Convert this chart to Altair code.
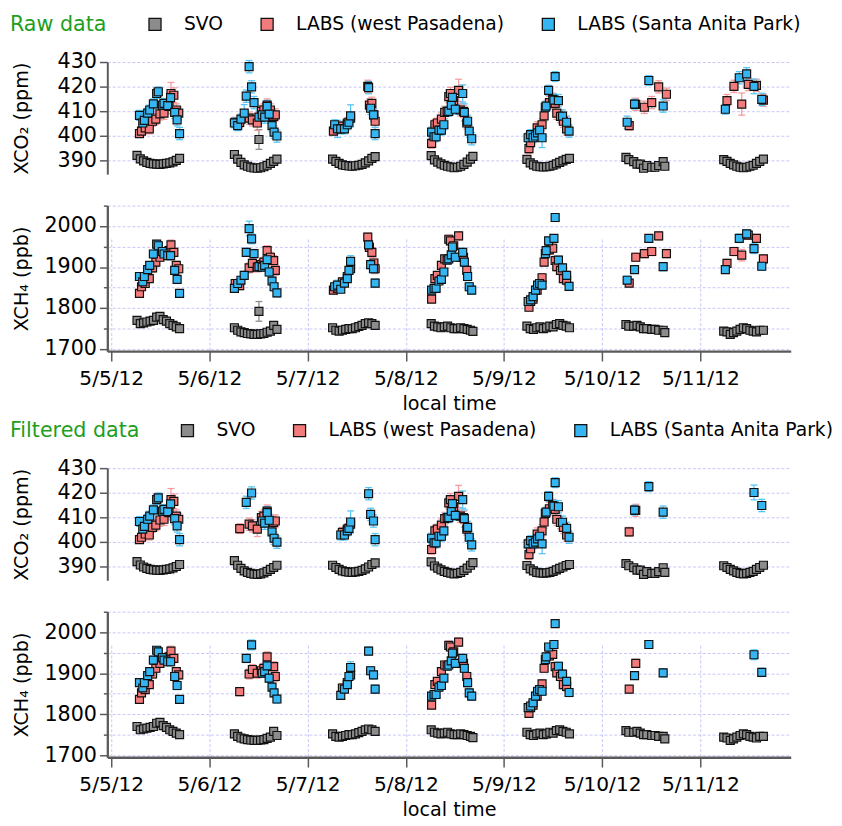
import altair as alt
import pandas as pd

SITES = ["SVO", "LABS (west Pasadena)", "LABS (Santa Anita Park)"]
FILL_COLORS = ["#8c8c8c", "#f47b7b", "#35b6f2"]
ERR_COLORS = ["#8c8c8c", "#f89c9c", "#55c6f7"]
DAY_LABELS = ["5/5/12", "5/6/12", "5/7/12", "5/8/12", "5/9/12", "5/10/12", "5/11/12"]
CO2_TICKS = [390, 400, 410, 420, 430]
CH4_MAJOR = [1700, 1800, 1900, 2000]
CH4_MINOR = [1750, 1850, 1950, 2050]

# rows: (local hour, XCO2, XCO2 err, XCH4, XCH4 err, kept after filtering)
SVO_D0 = [(6.3, 392.0, 0.9, 1770, 6, 1), (7.1, 390.6, 0.8, 1762, 5, 1), (7.9, 389.8, 0.8, 1764, 5, 1),
          (8.7, 389.2, 0.7, 1766, 5, 1), (9.5, 388.8, 0.7, 1768, 4, 1), (10.3, 388.6, 0.7, 1770, 5, 1),
          (11.1, 388.5, 0.7, 1778, 5, 1), (11.9, 388.4, 0.8, 1780, 6, 1), (12.7, 388.6, 0.7, 1772, 5, 1),
          (13.5, 388.8, 0.7, 1768, 5, 1), (14.3, 389.0, 0.8, 1762, 5, 1), (15.1, 389.4, 0.8, 1758, 5, 1),
          (15.9, 390.0, 0.9, 1754, 6, 1), (16.7, 390.8, 1.0, 1750, 6, 1)]
SVO_D1 = [(6.1, 392.4, 1.0, 1752, 6, 1), (6.9, 390.5, 0.9, 1746, 5, 1), (7.7, 389.2, 0.8, 1742, 5, 1),
          (8.5, 388.2, 0.8, 1740, 5, 1), (9.3, 387.6, 0.7, 1738, 5, 1), (10.1, 387.2, 0.7, 1737, 5, 1),
          (10.9, 386.9, 0.7, 1736, 5, 1), (11.7, 386.8, 0.7, 1736, 5, 1), (12.1, 398.5, 4.0, 1792, 24, 0),
          (12.5, 387.0, 0.7, 1737, 5, 1), (13.3, 387.4, 0.7, 1738, 5, 1), (14.1, 388.0, 0.8, 1741, 5, 1),
          (14.9, 388.8, 0.8, 1744, 5, 1), (15.7, 389.6, 0.9, 1758, 6, 1), (16.5, 390.5, 1.0, 1748, 6, 1)]
SVO_D2 = [(6.1, 390.5, 0.9, 1752, 6, 1), (6.9, 389.6, 0.8, 1746, 5, 1), (7.7, 388.8, 0.8, 1744, 5, 1),
          (8.5, 388.2, 0.7, 1746, 5, 1), (9.3, 387.9, 0.7, 1748, 5, 1), (10.1, 387.7, 0.7, 1750, 5, 1),
          (10.9, 387.6, 0.7, 1750, 5, 1), (11.7, 387.8, 0.7, 1752, 5, 1), (12.5, 388.0, 0.7, 1755, 5, 1),
          (13.3, 388.4, 0.8, 1758, 5, 1), (14.1, 389.0, 1.5, 1762, 6, 1), (14.9, 389.8, 0.8, 1764, 6, 1),
          (15.7, 390.8, 1.0, 1762, 6, 1), (16.5, 391.5, 1.0, 1758, 6, 1)]
SVO_D3 = [(6.2, 391.9, 1.0, 1762, 6, 1), (7.0, 390.2, 0.9, 1756, 5, 1), (7.8, 389.3, 0.8, 1754, 5, 1),
          (8.6, 388.6, 0.8, 1752, 5, 1), (9.4, 388.0, 0.7, 1754, 5, 1), (10.2, 387.6, 0.7, 1756, 5, 1),
          (11.0, 387.3, 0.7, 1752, 5, 1), (11.8, 387.0, 0.7, 1750, 5, 1), (12.6, 387.2, 0.7, 1750, 5, 1),
          (13.4, 387.6, 0.8, 1752, 5, 1), (14.2, 388.4, 0.8, 1750, 5, 1), (15.0, 389.3, 0.9, 1748, 5, 1),
          (15.8, 390.5, 1.0, 1746, 5, 1), (16.4, 391.6, 1.2, 1743, 6, 1)]
SVO_D4 = [(5.6, 390.4, 0.9, 1756, 5, 1), (6.4, 389.0, 0.8, 1750, 5, 1), (7.2, 388.2, 0.8, 1748, 5, 1),
          (8.0, 387.6, 0.7, 1752, 5, 1), (8.8, 387.4, 0.7, 1754, 5, 1), (9.6, 387.3, 0.7, 1750, 5, 1),
          (10.4, 387.4, 0.7, 1752, 5, 1), (11.2, 387.6, 0.7, 1756, 5, 1), (12.0, 388.0, 0.7, 1754, 5, 1),
          (12.8, 388.6, 0.8, 1760, 5, 1), (13.6, 389.2, 0.8, 1762, 5, 1), (14.4, 389.8, 0.8, 1758, 5, 1),
          (15.2, 390.4, 0.9, 1756, 5, 1), (16.0, 390.8, 1.0, 1752, 6, 1)]
SVO_D5 = [(5.8, 391.2, 1.0, 1760, 6, 1), (6.5, 390.3, 0.9, 1756, 5, 1), (7.7, 389.5, 0.8, 1756, 5, 1),
          (8.5, 388.5, 0.8, 1758, 5, 1), (9.3, 388.5, 0.8, 1754, 5, 1), (10.1, 386.8, 0.8, 1750, 5, 1),
          (10.9, 387.9, 0.8, 1750, 5, 1), (12.1, 387.2, 0.8, 1748, 5, 1), (12.9, 387.2, 0.8, 1748, 5, 1),
          (13.8, 387.9, 0.8, 1746, 5, 1), (14.9, 389.5, 0.9, 1746, 5, 1), (15.3, 387.6, 0.9, 1740, 5, 1)]
SVO_D6 = [(5.7, 390.3, 0.9, 1744, 5, 1), (6.5, 389.6, 0.8, 1742, 5, 1), (7.3, 388.8, 0.8, 1736, 5, 1),
          (8.1, 388.2, 0.8, 1740, 5, 1), (8.9, 387.6, 0.8, 1744, 5, 1), (9.7, 387.2, 0.8, 1748, 5, 1),
          (10.5, 387.0, 0.8, 1752, 5, 1), (11.3, 387.2, 0.8, 1750, 5, 1), (12.1, 387.6, 0.8, 1746, 5, 1),
          (12.9, 388.0, 0.8, 1744, 5, 1), (13.7, 388.8, 0.8, 1742, 5, 1), (14.5, 389.6, 0.8, 1746, 5, 1),
          (15.4, 390.5, 0.9, 1746, 5, 1)]

WP_D0 = [(6.9, 400.9, 1.5, 1836, 8, 1), (7.4, 401.9, 1.5, 1852, 8, 1), (8.3, 403.2, 1.8, 1860, 9, 1),
         (9.3, 402.8, 2.0, 1872, 9, 1), (10.1, 405.9, 2.0, 1898, 10, 1), (10.9, 406.8, 2.2, 1912, 10, 1),
         (11.9, 408.9, 2.5, 1924, 10, 1), (12.9, 409.2, 2.5, 1936, 10, 1), (14.1, 411.9, 3.0, 1940, 12, 1),
         (14.6, 417.2, 4.5, 1954, 12, 1), (15.3, 416.5, 3.0, 1936, 10, 1), (15.9, 410.5, 2.5, 1904, 10, 1),
         (16.5, 409.2, 2.5, 1896, 10, 1)]
WP_D1 = [(6.3, 405.5, 2.0, 1860, 10, 0), (7.4, 405.4, 2.0, 1855, 10, 1), (9.7, 407.2, 2.5, 1898, 12, 1),
         (10.5, 406.5, 2.5, 1909, 12, 1), (11.7, 405.2, 3.0, 1900, 12, 1), (12.7, 409.9, 2.5, 1906, 12, 1),
         (13.3, 410.5, 2.5, 1912, 12, 1), (14.1, 412.5, 2.5, 1940, 12, 1), (14.9, 410.5, 2.5, 1924, 12, 0),
         (15.7, 407.9, 2.5, 1916, 12, 1), (16.1, 408.5, 2.5, 1892, 12, 1)]
WP_D2 = [(6.3, 401.9, 1.8, 1844, 10, 0), (7.3, 403.2, 1.8, 1848, 10, 0), (8.5, 403.9, 2.0, 1864, 10, 1),
         (9.7, 405.2, 2.0, 1877, 10, 1), (10.5, 407.2, 2.0, 1896, 10, 1), (14.7, 420.1, 2.5, 1973, 10, 0),
         (15.1, 412.5, 2.5, 1948, 10, 0), (15.7, 413.2, 2.5, 1936, 12, 0), (16.2, 408.5, 2.5, 1910, 12, 0),
         (16.5, 405.9, 2.5, 1896, 12, 0)]
WP_D3 = [(6.3, 396.9, 2.0, 1822, 9, 1), (7.1, 404.5, 2.0, 1872, 9, 1), (7.7, 405.2, 2.0, 1880, 9, 1),
         (8.7, 406.8, 2.5, 1904, 10, 1), (9.5, 409.5, 2.5, 1920, 10, 1), (10.5, 415.9, 2.5, 1968, 10, 1),
         (10.9, 417.2, 2.5, 1964, 10, 1), (11.7, 414.3, 2.5, 1952, 10, 1), (12.9, 418.5, 4.5, 1976, 10, 1),
         (13.3, 410.5, 2.5, 1924, 10, 1), (14.1, 409.9, 2.5, 1924, 10, 1), (14.9, 405.2, 2.5, 1892, 10, 1)]
WP_D4 = [(6.1, 394.8, 2.0, 1802, 9, 1), (6.5, 397.2, 2.0, 1816, 9, 1), (7.1, 400.1, 2.0, 1822, 9, 1),
         (8.1, 403.2, 2.5, 1844, 10, 1), (9.3, 404.5, 2.5, 1874, 10, 1), (9.8, 408.1, 2.5, 1912, 10, 1),
         (11.1, 413.5, 2.5, 1942, 10, 1), (11.9, 414.8, 2.5, 1946, 10, 1), (12.5, 413.2, 2.5, 1916, 10, 1),
         (12.9, 409.2, 2.5, 1901, 10, 1), (13.8, 407.9, 2.5, 1892, 10, 1), (14.5, 405.9, 2.5, 1872, 10, 1),
         (15.3, 402.8, 2.5, 1868, 12, 1)]
WP_D5 = [(6.6, 404.1, 1.8, 1861, 9, 1), (8.2, 412.8, 2.5, 1924, 10, 1), (10.3, 411.6, 2.5, 1933, 10, 0),
         (12.1, 413.5, 2.5, 1938, 10, 0), (13.8, 419.9, 2.5, 1976, 10, 0), (15.7, 416.9, 2.5, 1933, 10, 0)]
WP_D6 = [(6.5, 414.3, 2.5, 1909, 10, 0), (8.2, 420.1, 2.5, 1938, 10, 0), (10.1, 412.9, 4.5, 1929, 14, 0),
         (11.7, 420.9, 2.5, 1978, 10, 0), (13.7, 420.5, 2.5, 1970, 10, 0), (15.4, 414.5, 2.5, 1920, 10, 0)]

SAP_D0 = [(6.9, 408.3, 2.0, 1877, 9, 1), (7.7, 405.2, 1.8, 1864, 9, 1), (8.1, 406.3, 1.8, 1877, 9, 1),
          (8.9, 409.2, 2.0, 1894, 9, 1), (9.4, 410.5, 2.0, 1904, 9, 1), (10.3, 413.0, 2.0, 1932, 9, 1),
          (11.1, 417.2, 2.0, 1956, 9, 1), (11.5, 417.9, 2.0, 1952, 9, 1), (12.5, 412.5, 2.0, 1938, 9, 1),
          (12.9, 413.2, 2.0, 1932, 9, 1), (13.8, 412.3, 2.0, 1928, 9, 1), (14.5, 415.5, 2.5, 1928, 10, 1),
          (15.5, 409.5, 2.5, 1892, 10, 1), (16.1, 406.5, 2.5, 1870, 10, 1), (16.7, 400.9, 2.5, 1836, 9, 1)]
SAP_D1 = [(6.1, 405.2, 2.0, 1848, 9, 0), (6.9, 404.1, 2.0, 1860, 9, 0), (7.7, 406.8, 2.0, 1868, 9, 0),
          (8.5, 409.2, 3.5, 1880, 10, 0), (9.0, 416.1, 2.5, 1936, 10, 1), (9.7, 428.1, 2.5, 1994, 18, 0),
          (10.3, 419.9, 2.5, 1969, 12, 1), (10.9, 413.5, 2.5, 1933, 10, 0), (12.1, 407.6, 2.5, 1901, 10, 0),
          (12.9, 408.5, 2.5, 1900, 10, 1), (13.5, 407.6, 2.5, 1904, 10, 1), (14.1, 411.9, 2.5, 1918, 10, 1),
          (14.6, 408.8, 2.5, 1888, 10, 1), (15.3, 404.1, 2.5, 1866, 10, 1), (15.8, 401.5, 2.5, 1852, 10, 1),
          (16.5, 399.9, 2.5, 1837, 10, 1)]
SAP_D2 = [(6.6, 404.5, 2.0, 1852, 8, 0), (7.3, 402.8, 3.5, 1856, 12, 0), (8.1, 402.8, 2.0, 1846, 8, 1),
          (9.0, 402.8, 2.0, 1861, 8, 1), (9.7, 404.5, 2.0, 1872, 8, 1), (10.1, 405.5, 2.0, 1892, 8, 1),
          (10.5, 408.1, 4.5, 1914, 14, 1), (14.9, 419.6, 2.5, 1954, 10, 1), (15.4, 411.2, 2.5, 1906, 10, 1),
          (16.1, 408.5, 2.5, 1896, 10, 1), (16.5, 400.9, 2.5, 1861, 10, 1)]
SAP_D3 = [(6.3, 401.5, 2.0, 1844, 8, 1), (6.9, 399.6, 2.0, 1848, 8, 1), (7.4, 399.6, 2.0, 1848, 8, 1),
          (8.1, 402.3, 2.0, 1866, 8, 1), (8.7, 402.3, 2.0, 1870, 8, 1), (9.3, 404.5, 2.0, 1888, 8, 1),
          (10.1, 409.9, 2.0, 1917, 8, 1), (10.5, 409.9, 2.0, 1920, 8, 1), (11.1, 412.5, 2.0, 1930, 8, 1),
          (11.4, 415.6, 2.0, 1949, 8, 1), (12.1, 410.8, 2.0, 1924, 8, 1), (13.9, 417.2, 3.5, 1936, 10, 1),
          (14.3, 409.5, 3.5, 1912, 10, 1), (15.1, 405.9, 2.5, 1877, 10, 1), (15.5, 401.9, 2.5, 1852, 10, 1),
          (16.1, 398.8, 2.5, 1844, 10, 1)]
SAP_D4 = [(5.9, 399.2, 2.0, 1816, 8, 1), (6.5, 400.5, 2.0, 1820, 8, 1), (7.1, 399.2, 2.0, 1828, 8, 1),
          (7.7, 399.9, 2.0, 1844, 8, 1), (8.2, 401.2, 2.0, 1856, 8, 1), (8.7, 402.3, 2.0, 1860, 8, 1),
          (9.3, 399.2, 4.0, 1856, 10, 1), (10.1, 411.6, 2.0, 1933, 8, 1), (10.3, 412.1, 2.0, 1940, 8, 1),
          (10.9, 418.5, 2.0, 1964, 8, 1), (12.2, 414.5, 2.5, 1970, 8, 1), (12.5, 424.1, 2.0, 2021, 8, 1),
          (13.3, 414.3, 2.5, 1917, 10, 1), (14.3, 408.0, 2.5, 1898, 10, 1), (15.3, 405.5, 2.5, 1880, 10, 1),
          (15.9, 401.9, 2.5, 1853, 10, 1)]
SAP_D5 = [(6.1, 405.5, 2.5, 1868, 10, 0), (7.9, 412.9, 2.0, 1894, 8, 1), (11.4, 422.5, 2.0, 1970, 8, 1),
          (14.9, 412.1, 2.5, 1901, 10, 1)]
SAP_D6 = [(6.1, 410.8, 2.0, 1894, 8, 0), (9.5, 423.6, 2.5, 1970, 10, 0), (11.3, 425.2, 2.5, 1981, 10, 0),
          (13.1, 420.1, 3.0, 1945, 12, 1), (15.0, 414.8, 2.5, 1902, 10, 1)]


def table(site, days):
    recs = []
    for d, rows in enumerate(days):
        for h, co2, co2e, ch4, ch4e, keep in rows:
            recs.append({"site": site, "t": d + h / 24.0,
                         "co2": co2, "co2_lo": co2 - co2e, "co2_hi": co2 + co2e,
                         "ch4": ch4, "ch4_lo": ch4 - ch4e, "ch4_hi": ch4 + ch4e, "keep": keep})
    return recs


raw = pd.DataFrame(
    table(SITES[0], [SVO_D0, SVO_D1, SVO_D2, SVO_D3, SVO_D4, SVO_D5, SVO_D6])
    + table(SITES[1], [WP_D0, WP_D1, WP_D2, WP_D3, WP_D4, WP_D5, WP_D6])
    + table(SITES[2], [SAP_D0, SAP_D1, SAP_D2, SAP_D3, SAP_D4, SAP_D5, SAP_D6])
)
filtered = raw[raw["keep"] == 1].reset_index(drop=True)

FONT = "DejaVu Sans"
W, H = 695, 294
X_DOM = [-0.04, 6.92]
AXIS_GREY = "#5a5a5a"
LABEL_EXPR = "[" + ",".join("'%s'" % s for s in DAY_LABELS) + "][datum.value]"


def co2_scale():
    return alt.Scale(domain=[384.4, 430], range=[114, 0], nice=False, zero=False)


def ch4_scale():
    return alt.Scale(domain=[1695, 2050], range=[294, 146], nice=False, zero=False)


def x_enc():
    return alt.X("t:Q", scale=alt.Scale(domain=X_DOM, nice=False, zero=False),
                 axis=alt.Axis(values=list(range(7)), labelExpr=LABEL_EXPR, title="local time",
                               grid=True, tickSize=10, tickWidth=1.5, tickColor=AXIS_GREY,
                               domainColor=AXIS_GREY, domainWidth=2.5, labelPadding=8,
                               labelFontSize=20.5, titleFontSize=19.5, titleFontWeight="normal",
                               titlePadding=6))


def stroke_enc():
    return alt.Stroke("site:N", scale=alt.Scale(domain=SITES, range=ERR_COLORS), legend=None)


def y_axis(values, title, title_y):
    return alt.Axis(values=values, title=title, orient="left", grid=True, format="d",
                    tickSize=8, tickWidth=1.5, tickColor=AXIS_GREY,
                    domainColor=AXIS_GREY, domainWidth=2, labelFontSize=21,
                    labelPadding=3, titleFontSize=19.5, titleFontWeight="normal",
                    titleX=-87, titleY=title_y, titleAngle=270, titleBaseline="middle",
                    titleAlign="center")


def panel(df, title):
    legend = alt.Legend(orient="none", legendX=-99, legendY=-48, direction="horizontal",
                        title=title, titleOrient="left", titleColor="#1e9e1e",
                        titleFontSize=21, titleFontWeight="normal", titlePadding=39,
                        titleLimit=0, labelLimit=0,
                        labelFontSize=19, labelOffset=20, columnPadding=35,
                        symbolType="square", symbolSize=150, symbolStrokeColor="#111",
                        symbolStrokeWidth=1.3, symbolOpacity=1)
    fill_enc = alt.Fill("site:N", scale=alt.Scale(domain=SITES, range=FILL_COLORS), legend=legend)
    base = alt.Chart(df)
    layers = []
    for gas, scale_fn in (("co2", co2_scale), ("ch4", ch4_scale)):
        if gas == "co2":
            main_axis = y_axis(CO2_TICKS, "XCO₂ (ppm)", 57)
            minor_axis = None
        else:
            main_axis = y_axis(CH4_MAJOR, "XCH₄ (ppb)", 220)
            minor_axis = alt.Axis(values=CH4_MINOR, title=None, orient="left", grid=True,
                                  labels=False, tickSize=4, tickWidth=1.5, tickColor=AXIS_GREY,
                                  domainColor=AXIS_GREY, domainWidth=2)
        bars = base.mark_rule(strokeWidth=1.3).encode(
            x=x_enc(),
            y=alt.Y(f"{gas}_lo:Q", scale=scale_fn(), axis=minor_axis),
            y2=alt.Y2(f"{gas}_hi:Q"),
            stroke=stroke_enc(),
        )
        caps = base.transform_fold([f"{gas}_lo", f"{gas}_hi"], as_=["end", "v"]).mark_rule(
            strokeWidth=1.3, xOffset=-3.5, x2Offset=3.5
        ).encode(
            x=x_enc(),
            x2=alt.X2("t:Q"),
            y=alt.Y("v:Q", scale=scale_fn(), axis=None),
            stroke=stroke_enc(),
        )
        pts = base.mark_square(size=66, filled=True, stroke="#111", strokeWidth=1.2, opacity=1).encode(
            x=x_enc(),
            y=alt.Y(f"{gas}:Q", scale=scale_fn(), axis=main_axis),
            fill=fill_enc,
        )
        layers += [bars, caps, pts]
    return alt.layer(*layers).resolve_scale(y="independent").properties(width=W, height=H)


chart = alt.vconcat(panel(raw, "Raw data"), panel(filtered, "Filtered data"), spacing=8).resolve_legend(
    fill="independent"
).properties(padding={"left": 2, "top": 0, "right": 0, "bottom": 2}).configure_view(
    stroke=None
).configure_axis(
    gridColor="#c6c6fa", gridDash=[3, 2], gridWidth=1, labelFont=FONT, titleFont=FONT,
    labelColor="#000", titleColor="#000"
).configure_legend(labelFont=FONT, titleFont=FONT, labelColor="#000")

chart.save("out.html", embed_options={"renderer": "svg", "actions": False})
